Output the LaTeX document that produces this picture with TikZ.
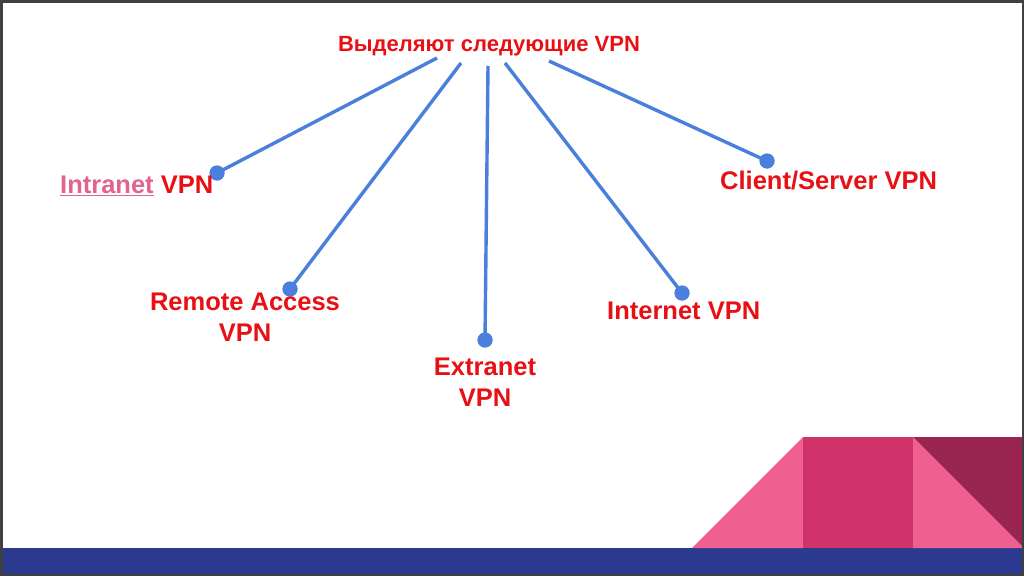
\documentclass[tikz,border=0pt]{standalone}
\usepackage{fontspec}
\setmainfont{Liberation Sans}
\definecolor{vred}{RGB}{232,16,20}
\definecolor{vpink}{RGB}{226,100,140}
\definecolor{vblue}{RGB}{74,128,220}
\definecolor{barblue}{RGB}{43,58,143}
\definecolor{lpink}{RGB}{239,96,144}
\definecolor{mpink}{RGB}{208,51,105}
\definecolor{dpink}{RGB}{154,36,80}
\begin{document}
\begin{tikzpicture}[x=1pt,y=-1pt,
  lbl/.style={text=vred,font=\fontsize{25.5}{31}\selectfont\bfseries,align=center,inner sep=0pt},
  conn/.style={draw=vblue,line width=3.4pt},
  dot/.style={circle,fill=vblue,inner sep=0pt,minimum size=15pt}]
\useasboundingbox (0,0) rectangle (1024,576);
\fill[white] (0,0) rectangle (1024,576);
% decorations
\fill[barblue] (0,548) rectangle (1024,576);
\fill[lpink] (692,548) -- (803,437) -- (803,548) -- cycle;
\fill[mpink] (803,437) rectangle (913,548);
\fill[lpink] (913,437) -- (1024,548) -- (913,548) -- cycle;
\fill[dpink] (913,437) -- (1024,437) -- (1024,548) -- cycle;
\draw[line width=2.5pt,draw=black!75] (1.25,1.25) rectangle (1022.75,574.75);
% title
\node[lbl,font=\fontsize{22}{26}\selectfont\bfseries] (title) at (489,46) {Выделяют следующие VPN};
\coordinate (s1) at (437,58);
\coordinate (s2) at (461,63);
\coordinate (s3) at (488,66);
\coordinate (s4) at (505,63);
\coordinate (s5) at (549,61);
\node[dot] (d1) at (217,173) {};
\node[dot] (d2) at (290,289) {};
\node[dot] (d3) at (485,340) {};
\node[dot] (d4) at (682,293) {};
\node[dot] (d5) at (767,161) {};
\draw[conn] (s1) -- (d1.center);
\draw[conn] (s2) -- (d2.center);
\draw[conn] (s3) -- (d3.center);
\draw[conn] (s4) -- (d4.center);
\draw[conn] (s5) -- (d5.center);
\node[dot] at (d1) {};
\node[dot] at (d2) {};
\node[dot] at (d3) {};
\node[dot] at (d4) {};
\node[dot] at (d5) {};
% labels
\node[lbl,anchor=west] (intra) at (60,186) {{\color{vpink}\underline{Intranet}} VPN};
\node[lbl,anchor=west] (cs) at (720,181) {Client/Server VPN};
\node[lbl] (ra) at (245,317) {Remote Access\\VPN};
\node[lbl] (ex) at (485,382) {Extranet\\VPN};
\node[lbl,anchor=west] (inet) at (607,311) {Internet VPN};
\end{tikzpicture}
\end{document}
